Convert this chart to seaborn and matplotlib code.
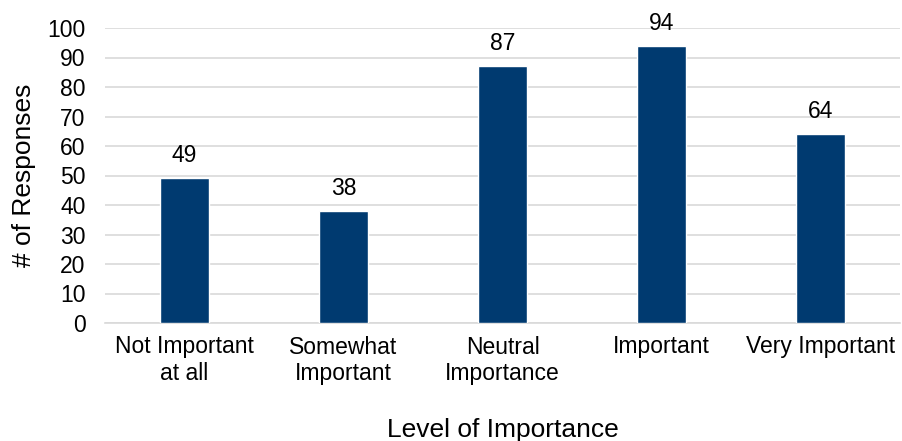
import matplotlib.pyplot as plt
import pandas as pd
import seaborn as sns

categories = ["Not Important\nat all", "Somewhat\nImportant", "Neutral\nImportance",
              "Important", "Very Important"]
responses = [49, 38, 87, 94, 64]
yticks = list(range(0, 101, 10))

if __name__ == "__main__":
    sns.set_style("white")
    plt.rcParams["font.family"] = ["Liberation Sans", "DejaVu Sans"]
    plt.rcParams["text.color"] = "black"
    plt.rcParams["axes.labelcolor"] = "black"
    plt.rcParams["xtick.color"] = "black"
    plt.rcParams["ytick.color"] = "black"

    data = pd.DataFrame({"level": categories, "count": responses})

    fig = plt.figure(figsize=(9.02, 4.41), dpi=100)
    ax = fig.add_axes([105 / 902, 1 - 323 / 441, 795 / 902, 295 / 441])

    sns.barplot(data, x="level", y="count", color="#003A70", width=0.31,
                saturation=1, ax=ax, zorder=3)
    ax.bar_label(ax.containers[0], fontsize=16.5, padding=8, color="black")

    ax.set_ylim(0, 100)
    ax.set_yticks(yticks)
    ax.set_xlim(-0.5, len(categories) - 0.5)
    ax.yaxis.grid(True, color="#D9D9D9", linewidth=1.2, zorder=0)
    for side in ("left", "right", "top"):
        ax.spines[side].set_visible(False)
    ax.spines["bottom"].set_color("#D9D9D9")
    ax.spines["bottom"].set_linewidth(1.2)

    ax.tick_params(axis="both", length=0, labelsize=16.5)
    ax.tick_params(axis="x", pad=9)
    ax.tick_params(axis="y", pad=14)
    ax.set_xlabel("Level of Importance", fontsize=19, labelpad=24)
    ax.set_ylabel("# of Responses", fontsize=19, labelpad=8)

    fig.savefig("out.png", dpi=100)
